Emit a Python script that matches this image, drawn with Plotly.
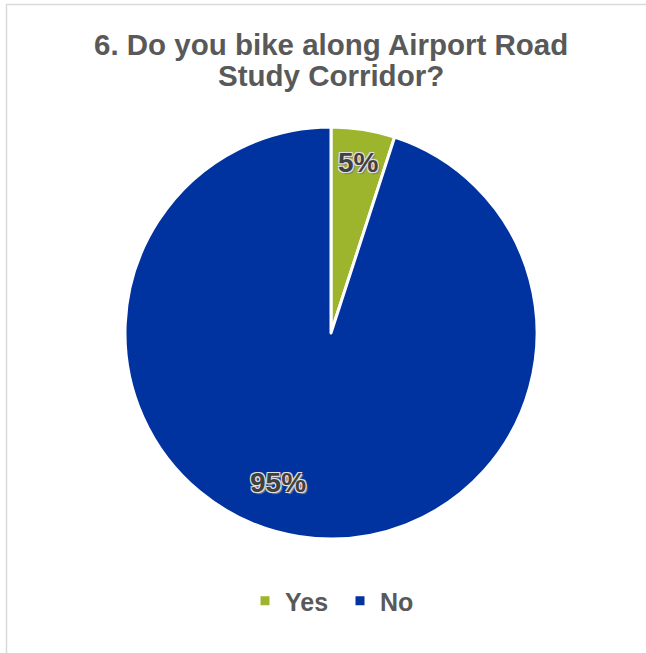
import math
import plotly.graph_objects as go

# Survey responses
answers = ["Yes", "No"]
shares = [5, 95]
slice_colors = ["#9DB52C", "#0033A0"]

title_lines = ["6. Do you bike along Airport Road", "Study Corridor?"]

W, H = 646, 653
cx, cy, radius = 331, 333, 206

# where each percentage label sits: fraction of radius, angular nudge (deg)
label_radius = [0.84, 0.77]
label_nudge = [0.0, 10.5]

FONT = "Liberation Sans, Arial, sans-serif"

fig = go.Figure(
    go.Pie(
        labels=answers,
        values=shares,
        sort=False,
        direction="clockwise",
        rotation=0,
        marker=dict(colors=slice_colors, line=dict(color="white", width=3)),
        textinfo="none",
        hoverinfo="label+percent",
        domain=dict(
            x=[(cx - radius) / W, (cx + radius) / W],
            y=[1 - (cy + radius) / H, 1 - (cy - radius) / H],
        ),
    )
)

annotations = []

# percentage labels placed along each slice's mid angle
total = sum(shares)
cum = 0
for i, v in enumerate(shares):
    mid = (cum + v / 2) / total * 360 + label_nudge[i]
    cum += v
    r = radius * label_radius[i]
    px = cx + r * math.sin(math.radians(mid))
    py = cy - r * math.cos(math.radians(mid))
    annotations.append(dict(
        text=f"{round(v / total * 100)}%",
        x=px / W, y=1 - py / H, xref="paper", yref="paper",
        xanchor="center", yanchor="middle", showarrow=False,
        font=dict(
            family=FONT, size=28, weight="bold", color="#404040",
            shadow="1px 1px 0 #e0e0e0, -1px -1px 0 #e0e0e0, 1px -1px 0 #e0e0e0, -1px 1px 0 #e0e0e0, 2px 2px 1px #808080",
        ),
    ))

# two-line chart title
for line, ty in zip(title_lines, [44, 75]):
    annotations.append(dict(
        text=line, x=331 / W, y=1 - ty / H, xref="paper", yref="paper",
        xanchor="center", yanchor="middle", showarrow=False,
        font=dict(family=FONT, size=29.5, weight="bold", color="#595959"),
    ))

fig.update_layout(
    width=W,
    height=H,
    margin=dict(l=0, r=0, t=0, b=0),
    paper_bgcolor="white",
    plot_bgcolor="white",
    legend=dict(
        orientation="h",
        x=340 / W,
        xanchor="center",
        y=1 - 601 / H,
        yanchor="middle",
        font=dict(family=FONT, size=25, weight="bold", color="#595959"),
        traceorder="normal",
        entrywidth=50,
    ),
    annotations=annotations,
    shapes=[
        dict(type="line", xref="paper", yref="paper",
             x0=6.5 / W, x1=6.5 / W, y0=0, y1=1 - 4 / H,
             line=dict(color="#D9D9D9", width=1.5)),
        dict(type="line", xref="paper", yref="paper",
             x0=6.5 / W, x1=1, y0=1 - 4.5 / H, y1=1 - 4.5 / H,
             line=dict(color="#D9D9D9", width=1.5)),
    ],
)

fig.write_html("out.html")
